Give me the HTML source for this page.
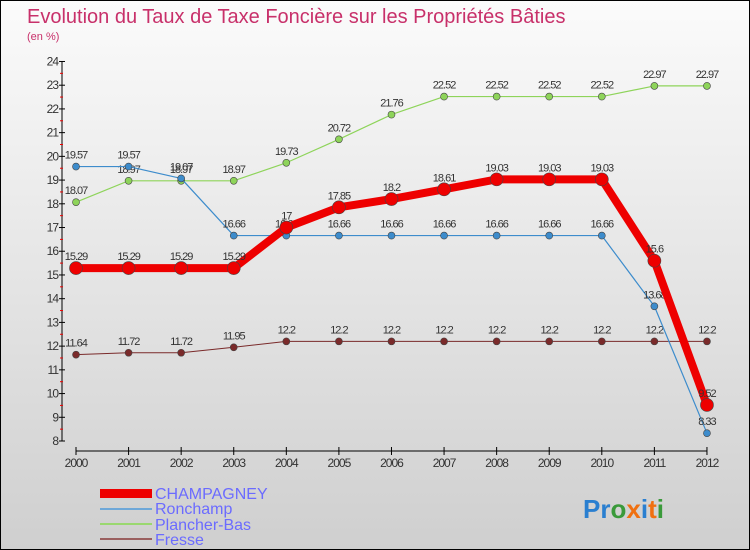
<!DOCTYPE html>
<html><head><meta charset="utf-8"><style>
body{margin:0;}
#wrap{width:748px;height:548px;border:1px solid #000;background:linear-gradient(#fbfbfb,#cfcfcf);position:relative;overflow:hidden;font-family:"Liberation Sans",sans-serif;}
</style></head><body>
<div id="wrap">
<svg id="chart" width="748" height="548">
<text x="26" y="22" font-size="20" fill="#c8306a">Evolution du Taux de Taxe Foncière sur les Propriétés Bâties</text>
<text x="26" y="39" font-size="11" fill="#c8306a">(en %)</text>
<g id="axes"></g><g id="series"></g>
<g>
<rect x="99" y="488" width="52" height="9" fill="#e00"/>
<text x="154" y="498" font-size="16" fill="#6b6bff">CHAMPAGNEY</text>
<line x1="99" y1="508" x2="151" y2="508" stroke="#6fa8d8" stroke-width="2"/>
<text x="154" y="513" font-size="16" fill="#6b6bff">Ronchamp</text>
<line x1="99" y1="523" x2="151" y2="523" stroke="#9ad870" stroke-width="2"/>
<text x="154" y="529" font-size="16" fill="#6b6bff">Plancher-Bas</text>
<line x1="99" y1="538" x2="151" y2="538" stroke="#9a6060" stroke-width="2"/>
<text x="154" y="544" font-size="16" fill="#6b6bff">Fresse</text>
</g>
<text x="582" y="517" font-size="26" font-weight="bold"><tspan fill="#2a7fd0">Pr</tspan><tspan fill="#3a9a3a">o</tspan><tspan fill="#f07010">x</tspan><tspan fill="#2a7fd0">i</tspan><tspan fill="#f07010">t</tspan><tspan fill="#3a9a3a">i</tspan></text>
</svg></div>
<script>
const years=[2000,2001,2002,2003,2004,2005,2006,2007,2008,2009,2010,2011,2012];
const champagney=[15.29,15.29,15.29,15.29,17,17.85,18.2,18.61,19.03,19.03,19.03,15.6,9.52];
const ronchamp=[19.57,19.57,19.07,16.66,16.66,16.66,16.66,16.66,16.66,16.66,16.66,13.68,8.33];
const plancher=[18.07,18.97,18.97,18.97,19.73,20.72,21.76,22.52,22.52,22.52,22.52,22.97,22.97];
const fresse=[11.64,11.72,11.72,11.95,12.2,12.2,12.2,12.2,12.2,12.2,12.2,12.2,12.2];
const yTicks=[8,9,10,11,12,13,14,15,16,17,18,19,20,21,22,23,24];
const NS='http://www.w3.org/2000/svg';
const X=i=>75+i*52.58, Y=v=>440-(v-8)*23.72;
function mk(tag,attrs,parent){const e=document.createElementNS(NS,tag);for(const k in attrs)e.setAttribute(k,attrs[k]);parent.appendChild(e);return e;}
const ax=document.getElementById('axes'), sg=document.getElementById('series');
let l=mk('line',{x1:61,y1:Y(24),x2:61,y2:Y(8),stroke:'#000'},ax);


yTicks.forEach(v=>{
 let t=mk('line',{x1:58,y1:Y(v),x2:64,y2:Y(v),stroke:'#000'},ax);
 
 
 if(v<24){let m=mk('line',{x1:59,y1:Y(v+0.5),x2:62,y2:Y(v+0.5),stroke:'#e00'},ax);
 
 }
 let tx=mk('text',{x:57,y:Y(v)+4,'font-size':12,fill:'#333','text-anchor':'end','letter-spacing':'-1'},ax);tx.textContent=v;
 
 
});
l=mk('line',{x1:X(0),y1:450,x2:X(12),y2:450,stroke:'#000'},ax);


years.forEach((yr,i)=>{
 let t=mk('line',{x1:X(i),y1:446,x2:X(i),y2:454,stroke:'#000'},ax);
 
 
 let tx=mk('text',{x:X(i),y:466,'font-size':12,fill:'#333','text-anchor':'middle','letter-spacing':'-1'},ax);tx.textContent=yr;
 
 
});
function series(data,color,w,r,name){
 let p=mk('polyline',{points:data.map((v,i)=>X(i)+','+Y(v)).join(' '),fill:'none',stroke:color,'stroke-width':w,'stroke-linejoin':'round'},sg);
 
 
 data.forEach((v,i)=>{
  let c=mk('circle',{cx:X(i),cy:Y(v),r:r,fill:color,stroke:'#444','stroke-width':0.6},sg);
  
  
  let tx=mk('text',{x:X(i),y:Y(v)-8,'font-size':11,fill:'#333','text-anchor':'middle','letter-spacing':'-1'},sg);tx.textContent=v;
  
  
 });
}
series(fresse,'#7a2a2a',1,3.5,'fresse');
series(plancher,'#8ed45a',1.2,3.5,'plancher-bas');
series(ronchamp,'#3d8ccc',1.2,3.5,'ronchamp');
series(champagney,'#ee0000',8,6.5,'champagney');
</script>
</body></html>
